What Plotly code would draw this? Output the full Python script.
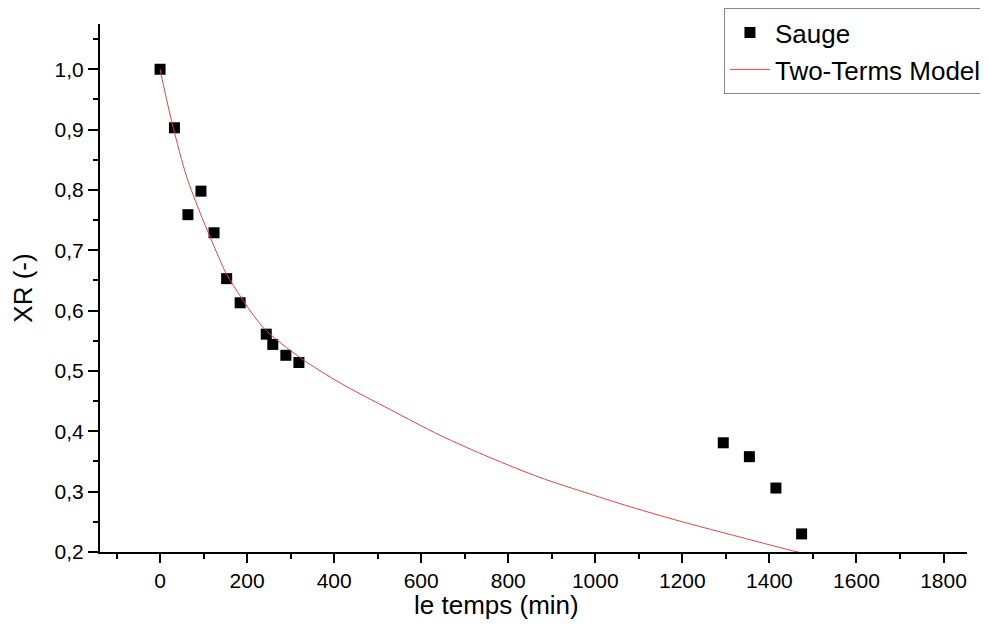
import plotly.graph_objects as go

# Experimental data (Sauge)
t_exp = [0, 33, 64, 94, 124, 153, 184, 244, 259, 289, 319, 1294, 1354, 1415, 1474]
xr_exp = [1.0, 0.903, 0.759, 0.798, 0.729, 0.653, 0.613, 0.561, 0.544, 0.526, 0.514,
          0.381, 0.358, 0.306, 0.230]

# Two-Terms model curve
t_model = [0, 15, 30, 61, 92, 115, 134, 153, 237, 322, 414, 529, 643, 758, 873, 988,
           1080, 1195, 1310, 1459, 1490]
xr_model = [1.0, 0.950, 0.904, 0.822, 0.762, 0.722, 0.690, 0.660, 0.572, 0.522, 0.480, 0.436,
            0.3935, 0.3565, 0.3235, 0.296, 0.275, 0.251, 0.229, 0.201, 0.196]

x_tickvals = [0, 200, 400, 600, 800, 1000, 1200, 1400, 1600, 1800]
x_ticktext = ["0", "200", "400", "600", "800", "1000", "1200", "1400", "1600", "1800"]
y_tickvals = [0.2, 0.3, 0.4, 0.5, 0.6, 0.7, 0.8, 0.9, 1.0]
y_ticktext = ["0,2", "0,3", "0,4", "0,5", "0,6", "0,7", "0,8", "0,9", "1,0"]

FONT = "Liberation Sans, Arial, sans-serif"

fig = go.Figure()
fig.add_trace(go.Scatter(
    x=t_exp, y=xr_exp, mode="markers", name="Sauge",
    marker=dict(symbol="square", size=11, color="black"),
    cliponaxis=False,
))
fig.add_trace(go.Scatter(
    x=t_model, y=xr_model, mode="lines", name="Two-Terms Model",
    line=dict(color="rgb(214,70,70)", width=1, shape="spline", smoothing=0.8),
))

axis_common = dict(
    showline=True, linecolor="black", linewidth=2,
    ticks="outside", tickwidth=2, tickcolor="black",
    showgrid=False, zeroline=False, mirror=False, automargin=False,
    tickfont=dict(family=FONT, size=21, color="black"),
)

fig.update_xaxes(
    range=[-138, 1854], tickmode="array", tickvals=x_tickvals, ticktext=x_ticktext,
    ticklen=9,
    minor=dict(tickmode="linear", tick0=-100, dtick=200, ticklen=5, tickwidth=2,
               tickcolor="black", ticks="outside", showgrid=False),
    **axis_common,
)
fig.update_yaxes(
    range=[0.2, 1.075], tickmode="array", tickvals=y_tickvals, ticktext=y_ticktext,
    ticklen=10,
    title=dict(text="XR (-)", font=dict(family=FONT, size=26, color="black"), standoff=15),
    minor=dict(tickmode="linear", tick0=0.25, dtick=0.1, ticklen=5, tickwidth=2,
               tickcolor="black", ticks="outside", showgrid=False),
    **axis_common,
)

fig.add_annotation(
    text="le temps (min)", xref="paper", yref="paper", x=0.457, y=-0.1,
    xanchor="center", yanchor="middle", showarrow=False,
    font=dict(family=FONT, size=26, color="black"),
)

fig.update_layout(
    width=980, height=617,
    margin=dict(l=92, r=21, t=16, b=73, autoexpand=False),
    paper_bgcolor="white", plot_bgcolor="white",
    showlegend=True,
    legend=dict(
        x=1.023, xanchor="right", y=1.03, yanchor="top",
        bgcolor="white", bordercolor="#888888", borderwidth=1,
        font=dict(family=FONT, size=26, color="black"),
        itemwidth=40, tracegroupgap=0,
    ),
)

fig.write_html("out.html")
